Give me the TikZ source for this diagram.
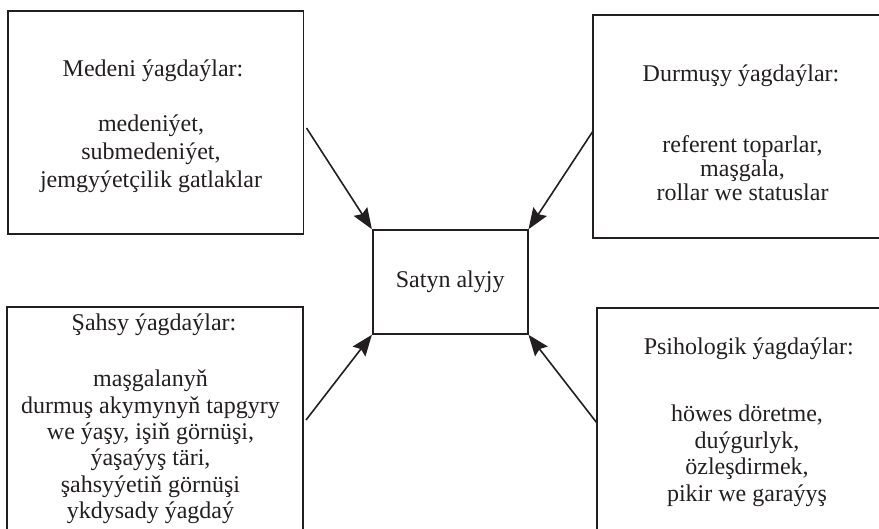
\documentclass[tikz,border=0pt]{standalone}
\usepackage{fontspec}
\setmainfont{Liberation Serif}
\usetikzlibrary{arrows.meta}
\definecolor{ink}{HTML}{231F20}
\tikzset{
  boxst/.style={draw=ink, line width=1.6pt, rectangle, inner sep=0pt},
  titlest/.style={anchor=base, inner sep=0pt, text=ink, font=\fontsize{24}{28}\selectfont},
  bodyst/.style={anchor=north, inner sep=0pt, align=center, text=ink},
  arr/.style={draw=ink, line width=1.6pt, -{Stealth[length=21pt,width=16pt,inset=3pt]}}
}
\begin{document}
\begin{tikzpicture}[x=1pt,y=-1pt]
\clip (0,0) rectangle (879,528);
\fill[white] (0,0) rectangle (879,528);
% boxes
\node[boxst, minimum width=295.3pt, minimum height=223pt] (tl) at (155.65,122.5) {};
\node[boxst, minimum width=298.3pt, minimum height=222.7pt] (tr) at (741.85,126.35) {};
\node[boxst, minimum width=295.7pt, minimum height=238pt] (bl) at (154.85,426) {};
\node[boxst, minimum width=294.3pt, minimum height=237pt] (br) at (743.85,426.5) {};
\node[boxst, minimum width=155pt, minimum height=104pt, text=ink, font=\fontsize{24}{28}\selectfont] (cen) at (450.2,282) {Satyn alyjy};
% texts
\node[titlest] (tlt) at (153,76) {Medeni ýagdaýlar:};
\node[bodyst, font=\fontsize{24}{27.8}\selectfont] (tlb) at (151,112.0) {\strut medeniýet,\\submedeniýet,\\jemgyýetçilik gatlaklar};
\node[titlest] (trt) at (741,81.7) {Durmuşy ýagdaýlar:};
\node[bodyst, font=\fontsize{24}{23.5}\selectfont] (trb) at (742.5,135.05) {\strut referent toparlar,\\maşgala,\\rollar we statuslar};
\node[titlest] (blt) at (154,330.7) {Şahsy ýagdaýlar:};
\node[bodyst, font=\fontsize{24}{26.3}\selectfont] (blb) at (150.5,368.3) {\strut maşgalanyň\\durmuş akymynyň tapgyry\\we ýaşy, işiň görnüşi,\\ýaşaýyş täri,\\şahsyýetiň görnüşi\\ykdysady ýagdaý};
\node[titlest] (brt) at (748.8,354) {Psihologik ýagdaýlar:};
\node[bodyst, font=\fontsize{24}{26.5}\selectfont] (brb) at (747,403.15) {\strut höwes döretme,\\duýgurlyk,\\özleşdirmek,\\pikir we garaýyş};
% arrow start points
\coordinate (s1) at (306.5,128);
\coordinate (s2) at (592.7,131.5);
\coordinate (s3) at (306,420);
\coordinate (s4) at (596.7,422.7);
\draw[arr] (s1) -- (cen.north west);
\draw[arr] (s2) -- (cen.north east);
\draw[arr] (s3) -- (cen.south west);
\draw[arr] (s4) -- (cen.south east);
\end{tikzpicture}
\end{document}
